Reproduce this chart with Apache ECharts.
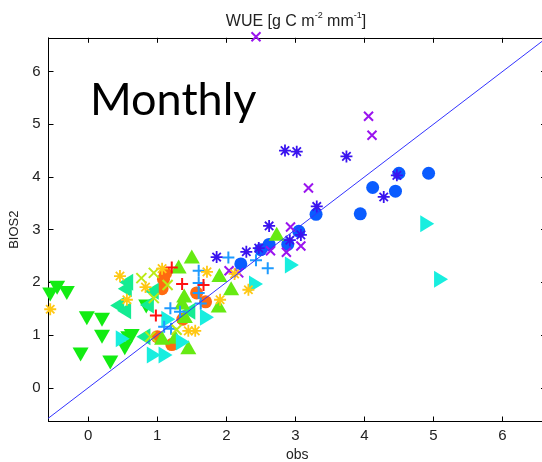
<!DOCTYPE html>
<html><head><meta charset="utf-8">
<script src="https://cdn.jsdelivr.net/npm/echarts@6/dist/echarts.min.js"></script>
<style>html,body{margin:0;padding:0;background:#fff}#c{width:542px;height:462px}</style>
</head><body><div id="c"></div><script>
// ---- data ----
const xTicks = [0, 1, 2, 3, 4, 5, 6];
const yTicks = [0, 1, 2, 3, 4, 5, 6];
const oneToOne = [-1, 7];
const orangeCircle = [[1.09,2.06],[1.07,1.88],[1.12,2.17],[1.57,1.80],[1.70,1.63],[1.37,1.30],[1.00,0.97],[1.21,0.82]];
const blueCircle = [[4.50,4.07],[4.93,4.07],[4.12,3.80],[4.45,3.73],[3.94,3.30],[3.30,3.29],[3.05,2.97],[2.89,2.72],[2.62,2.72],[2.50,2.62],[2.21,2.35]];
const greenDown = [[-0.55,1.77],[-0.45,1.90],[-0.31,1.80],[-0.02,1.32],[0.20,1.29],[0.20,0.97],[-0.11,0.63],[0.32,0.48],[0.58,0.94],[0.53,0.75],[0.84,1.54],[0.63,0.98]];
const seaLeft = [[0.55,2.00],[0.53,1.88],[0.42,1.56],[0.52,1.46],[0.92,1.83],[0.85,1.57],[0.80,0.97],[1.45,1.45]];
const limeUp = [[2.73,2.92],[1.50,2.49],[1.31,2.30],[1.90,2.14],[2.07,1.89],[1.89,1.56],[1.39,1.75],[1.40,1.36],[1.07,0.95],[1.45,0.77],[1.26,0.97],[1.36,1.62]];
const cyanRight = [[4.91,3.11],[5.11,2.06],[2.95,2.33],[2.43,1.97],[1.72,1.34],[1.37,0.87],[1.16,1.30],[0.50,0.93],[0.95,0.62],[1.12,0.62]];
const skyPlus = [[2.03,2.47],[2.43,2.42],[2.60,2.27],[1.60,2.22],[1.60,1.99],[1.60,1.80],[1.63,1.60],[1.19,1.51],[1.33,1.44],[1.10,1.16],[1.20,1.12]];
const redPlus = [[1.21,2.28],[1.36,1.97],[1.67,1.95],[0.98,1.37]];
const yellowCross = [[0.77,2.08],[0.95,2.18],[1.15,1.95],[0.95,1.70],[0.90,0.97],[1.28,1.10]];
const violetCross = [[2.43,6.66],[4.06,5.15],[4.11,4.79],[3.19,3.79],[2.93,3.05],[3.08,2.69],[2.87,2.57],[2.64,2.60],[2.04,2.22],[2.18,2.18]];
const goldStar = [[-0.55,1.49],[0.46,2.12],[0.56,1.67],[0.83,1.91],[1.07,2.26],[1.72,2.20],[1.91,1.67],[1.45,1.08],[1.55,1.08],[2.32,1.86],[2.12,2.16]];
const indigoStar = [[2.85,4.50],[3.02,4.48],[3.74,4.39],[3.31,3.44],[4.47,4.03],[4.28,3.62],[2.62,3.07],[3.08,2.90],[2.92,2.80],[2.47,2.65],[2.29,2.58],[1.86,2.48]];

// ---- styles ----
const SYM = {
  down: 'path://M0,0L10,0L5,9Z',
  up: 'path://M5,0L10,9L0,9Z',
  right: 'path://M0,0L9,5L0,10Z',
  left: 'path://M9,0L0,5L9,10Z',
  plus: 'path://M5,0L5,10M0,5L10,5',
  cross: 'path://M0,0L10,10M10,0L0,10',
  star: 'path://M5,0L5,10M0,5L10,5M1.5,1.5L8.5,8.5M8.5,1.5L1.5,8.5'
};
function filled(data, color, symbol, size) {
  return {type:'scatter', data, symbol, symbolSize:size, clip:false, itemStyle:{color, opacity:1},
          emphasis:{disabled:true}, silent:true, animation:false};
}
function stroked(data, color, symbol, size, w) {
  return {type:'scatter', data, symbol, symbolSize:size, clip:false,
          itemStyle:{color:'rgba(0,0,0,0)', borderColor:color, borderWidth:w, opacity:1},
          emphasis:{disabled:true}, silent:true, animation:false};
}
const X0 = -0.575, X1 = 6.63, Y0 = -0.64, Y1 = 6.64;
const FONT = 'Liberation Sans';
const base = {
  type:'value',
  axisLine:{show:true, onZero:false, lineStyle:{color:'#000', width:1}},
  splitLine:{show:false}
};
function tick(vals){ return {show:true, inside:true, length:5, customValues:vals, lineStyle:{color:'#000'}}; }
const chart = echarts.init(document.getElementById('c'), null, {renderer:'canvas'});
chart.setOption({
  animation:false,
  backgroundColor:'#fff',
  grid:{left:48.5, top:37.8, right:-4, bottom:40.5, containLabel:false, outerBoundsMode:'none'},
  xAxis:[
    Object.assign({}, base, {min:X0, max:X1, position:'bottom', axisTick:tick(xTicks),
      axisLabel:{customValues:xTicks, color:'#222', fontSize:15, fontFamily:FONT, margin:7},
      name:'obs', nameLocation:'middle', nameGap:27,
      nameTextStyle:{color:'#222', fontSize:14, fontFamily:FONT}}),
    Object.assign({}, base, {min:X0, max:X1, position:'top', axisTick:tick(xTicks), axisLabel:{show:false}})
  ],
  yAxis:[
    Object.assign({}, base, {min:Y0, max:Y1, position:'left', axisTick:tick(yTicks),
      axisLabel:{customValues:yTicks, color:'#222', fontSize:15, fontFamily:FONT, margin:8},
      name:'BIOS2', nameLocation:'middle', nameGap:18, nameRotate:90,
      nameTextStyle:{color:'#222', fontSize:13, fontFamily:FONT}}),
    Object.assign({}, base, {min:Y0, max:Y1, position:'right', axisTick:tick(yTicks), axisLabel:{show:false}})
  ],
  graphic:[
    {type:'text', x:296, y:11, z:10, style:{
      text:'{n|WUE [g C m}{s|-2}{n| mm}{s|-1}{n|]}', align:'center', verticalAlign:'top',
      rich:{
        n:{fontSize:16, fontFamily:FONT, lineHeight:19, verticalAlign:'bottom', fill:'#222'},
        s:{fontSize:9, fontFamily:FONT, lineHeight:10, verticalAlign:'top', fill:'#222'}
      }}},
    {type:'text', x:90, y:77.5, style:{text:'Monthly', fill:'#000', font:'45px Lato'}}
  ],
  series:[
    filled(orangeCircle, '#ff6a10', 'circle', 13),
    filled(blueCircle, '#0a5cff', 'circle', 13),
    filled(greenDown, '#12ec12', SYM.down, [16,14]),
    filled(seaLeft, '#14ec92', SYM.left, [14,17]),
    filled(limeUp, '#66ea12', SYM.up, [16,14]),
    filled(cyanRight, '#18eedf', SYM.right, [14,17]),
    stroked(skyPlus, '#1e9bff', SYM.plus, 12, 2),
    stroked(redPlus, '#ff1010', SYM.plus, 12, 2),
    stroked(yellowCross, '#bbea14', SYM.cross, 10, 2),
    stroked(violetCross, '#9a14ef', SYM.cross, 9, 2),
    stroked(goldStar, '#ffc814', SYM.star, 12, 1.8),
    stroked(indigoStar, '#3a14ef', SYM.star, 12, 1.8),
    {type:'line', data:oneToOne.map(v=>[v,v]), symbol:'none', clip:true,
     lineStyle:{color:'#3333ff', width:1}, silent:true, z:5, animation:false}
  ]
});
</script></body></html>
